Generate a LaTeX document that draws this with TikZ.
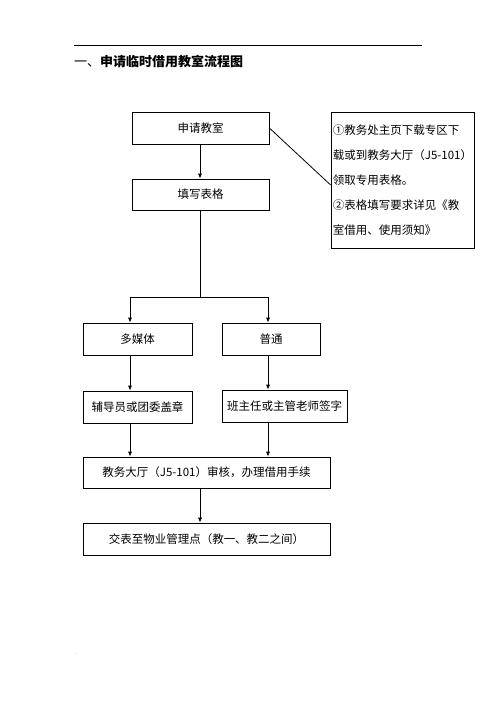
\documentclass[tikz,border=0pt]{standalone}
\usepackage{fontspec}
\newfontfamily\cjk{Noto Sans CJK SC}
\usetikzlibrary{arrows.meta}
\begin{document}
\begin{tikzpicture}[x=1pt,y=-1pt,
  box/.style={draw,line width=0.7pt,minimum height=32pt,inner sep=0pt,font=\cjk\fontsize{11.5}{14}\selectfont},
  arr/.style={line width=0.8pt,-{Latex[length=5pt,width=4pt]}},
  ln/.style={line width=0.8pt}]
\useasboundingbox[fill=white] (0,0) rectangle (496,702);

%Header
\draw [line width=1pt] (74,45) -- (422,45) ;
\node [anchor=west,inner sep=0pt,font=\cjk\fontsize{13}{15}\selectfont] (title) at (74,61) {一、\textbf{申请临时借用教室流程图}};

%Boxes
\node [box,minimum width=137pt] (sqjs) at (200.5,128) {申请教室};
\node [box,minimum width=137pt,minimum height=31pt] (txbg) at (200.5,194.5) {填写表格};
\node [box,minimum width=143pt,minimum height=136pt,align=left,font=\cjk\fontsize{11.5}{25}\selectfont] (note) at (402.5,180)
  {①教务处主页下载专区下\\载或到教务大厅（J5-101）\\领取专用表格。\\②表格填写要求详见《教\\室借用、使用须知》};
\node [box,minimum width=109pt] (dmt) at (137.5,339) {多媒体};
\node [box,minimum width=98pt] (pt) at (271,339) {普通};
\node [box,minimum width=109pt] (fdy) at (137.5,407) {辅导员或团委盖章};
\node [box,minimum width=125pt] (bzr) at (284.5,406) {班主任或主管老师签字};
\node [box,minimum width=247pt,minimum height=31pt] (jwdt) at (206.5,472.5) {教务大厅（J5-101）审核，办理借用手续};
\node [box,minimum width=247pt] (jbwy) at (206.5,539) {交表至物业管理点（教一、教二之间）};

%Fork points
\coordinate (fork) at (200,297);
\coordinate (forkL) at (130,297);
\coordinate (forkR) at (268,297);

%Connectors
\draw [arr] (sqjs.south -| fork) -- (txbg.north -| fork) ;
\draw [ln] (sqjs.east) -- ([yshift=-5pt]note.west) ;
\draw [ln] (txbg.south -| fork) -- (fork) ;
\draw [arr] (fork) -- (forkL) -- (forkL |- dmt.north) ;
\draw [arr] (fork) -- (forkR) -- (forkR |- pt.north) ;
\draw [arr] (forkL |- dmt.south) -- (forkL |- fdy.north) ;
\draw [arr] (forkR |- pt.south) -- (forkR |- bzr.north) ;
\draw [arr] (forkL |- fdy.south) -- (forkL |- jwdt.north) ;
\draw [arr] (forkR |- bzr.south) -- (forkR |- jwdt.north) ;
\draw [arr] (jwdt.south -| fork) -- (jbwy.north -| fork) ;

% Text Node
\node [inner sep=0pt,text=gray,font=\fontsize{6}{7}\selectfont] (dot) at (76,654) {.};
\end{tikzpicture}
\end{document}
